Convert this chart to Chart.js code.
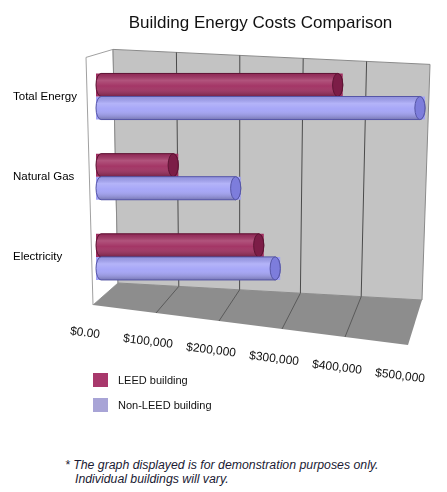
<!DOCTYPE html>
<html><head><meta charset="utf-8">
<script src="https://cdn.jsdelivr.net/npm/chart.js@4.4.0/dist/chart.umd.min.js"></script>
<style>
html,body{margin:0;padding:0;background:#fff;width:447px;height:492px;overflow:hidden;font-family:"Liberation Sans",Arial,sans-serif;}
#wrap{position:absolute;left:0;top:0;width:447px;height:400px;}
.item{position:absolute;left:93px;height:14px;font-size:11px;line-height:14px;color:#111;white-space:nowrap;}
.item .sw{position:absolute;left:0;top:0;width:15px;height:14px;}
.item .tx{position:absolute;left:25px;top:0;}
#note{position:absolute;left:65px;top:458px;font-size:12.3px;font-style:italic;line-height:14px;color:#1a1a33;white-space:nowrap;}
#note .l2{padding-left:10px;}
</style></head><body>
<div id="wrap"><canvas id="c"></canvas></div>
<div id="legend"></div>
<div id="note"><div>* The graph displayed is for demonstration purposes only.</div><div class="l2">Individual buildings will vary.</div></div>
<script>
const categories = ['Total Energy', 'Natural Gas', 'Electricity'];
const seriesNames = ['LEED building', 'Non-LEED building'];
const leedCosts = [375000, 125000, 255000];
const nonLeedCosts = [500000, 220000, 280000];
const xTicks = [0, 100000, 200000, 300000, 400000, 500000];
const xTickLabels = ['$0.00', '$100,000', '$200,000', '$300,000', '$400,000', '$500,000'];

const bodyColors = ['#a02e60', '#a3a3f7'];
const capColors = ['#7c1d47', '#7d7ddc'];
const edgeColors = ['#5e1434', '#5656a6'];
const legendColors = ['#a8386c', '#a8a4d6'];

const lerp = (p, q, t) => [p[0] + (q[0] - p[0]) * t, p[1] + (q[1] - p[1]) * t];
function geom(chart) {
  const xs = chart.scales.x, a = chart.chartArea;
  const L = xs.getPixelForValue(xTicks[0]);
  const R = xs.getPixelForValue(xTicks[xTicks.length - 1]);
  const T = a.top, B = a.bottom;
  return {
    L, R, T, B,
    wallTL: [L + 17, T - 7], wallTR: [R + 5, T + 8], wallBR: [R - 3, B + 3], wallBL: [L + 22, B - 14],
    sideTL: [L - 10, T + 1], floorFL: [L - 3, B + 8], floorFR: [R - 17, B + 48]
  };
}
function poly(ctx, pts) {
  ctx.beginPath();
  ctx.moveTo(pts[0][0], pts[0][1]);
  for (let i = 1; i < pts.length; i++) ctx.lineTo(pts[i][0], pts[i][1]);
  ctx.closePath();
}

const scenePlugin = {
  id: 'scene',
  beforeDatasetsDraw(chart) {
    const ctx = chart.ctx, g = geom(chart), xs = chart.scales.x;
    ctx.save();
    ctx.lineWidth = 1;
    poly(ctx, [g.sideTL, g.wallTL, g.wallBL, g.floorFL]);
    ctx.fillStyle = '#ffffff'; ctx.fill();
    ctx.strokeStyle = '#a0a0a0'; ctx.stroke();
    poly(ctx, [g.wallTL, g.wallTR, g.wallBR, g.wallBL]);
    ctx.fillStyle = '#c3c3c3'; ctx.fill();
    ctx.strokeStyle = '#8a8a8a'; ctx.stroke();
    poly(ctx, [g.wallBL, g.wallBR, g.floorFR, g.floorFL]);
    ctx.fillStyle = '#8d8d8d'; ctx.fill();
    xTicks.forEach((v, i) => {
      if (i === 0 || i === xTicks.length - 1) return;
      const t = (xs.getPixelForValue(v) - g.L) / (g.R - g.L);
      const a = lerp(g.wallTL, g.wallTR, t), b = lerp(g.wallBL, g.wallBR, t), c = lerp(g.floorFL, g.floorFR, t);
      ctx.beginPath(); ctx.moveTo(a[0], a[1]); ctx.lineTo(b[0], b[1]);
      ctx.strokeStyle = '#4a4a4a'; ctx.stroke();
      ctx.beginPath(); ctx.moveTo(b[0], b[1]); ctx.lineTo(c[0], c[1]);
      ctx.strokeStyle = '#5a5a5a'; ctx.stroke();
    });
    ctx.restore();
  },
  afterDatasetsDraw(chart) {
    const ctx = chart.ctx;
    chart.data.datasets.forEach((ds, di) => {
      const meta = chart.getDatasetMeta(di);
      meta.data.forEach(el => {
        const p = el.getProps(['x', 'y', 'base', 'height'], true);
        const ry = p.height / 2, rx = p.height * 0.22;
        const top = p.y - ry, bot = p.y + ry, xe = p.x - rx, b0 = p.base + rx;
        ctx.save();
        ctx.beginPath();
        ctx.moveTo(b0, top);
        ctx.lineTo(xe, top);
        ctx.ellipse(xe, p.y, rx, ry, 0, -Math.PI / 2, Math.PI / 2);
        ctx.lineTo(b0, bot);
        ctx.ellipse(b0, p.y, rx, ry, 0, Math.PI / 2, Math.PI * 1.5);
        ctx.closePath();
        ctx.fillStyle = bodyColors[di]; ctx.fill();
        const gr = ctx.createLinearGradient(0, top, 0, bot);
        gr.addColorStop(0, 'rgba(0,0,0,0.10)');
        gr.addColorStop(0.3, 'rgba(255,255,255,0.18)');
        gr.addColorStop(0.55, 'rgba(255,255,255,0.04)');
        gr.addColorStop(1, 'rgba(0,0,0,0.28)');
        ctx.fillStyle = gr; ctx.fill();
        ctx.lineWidth = 1; ctx.strokeStyle = edgeColors[di]; ctx.stroke();
        ctx.beginPath(); ctx.ellipse(xe, p.y, rx, ry, 0, 0, Math.PI * 2);
        ctx.fillStyle = capColors[di]; ctx.fill(); ctx.stroke();
        ctx.restore();
      });
    });
  },
  afterDraw(chart) {
    const ctx = chart.ctx, g = geom(chart), xs = chart.scales.x;
    ctx.save();
    ctx.font = '12px "Liberation Sans", Arial, sans-serif';
    ctx.fillStyle = '#111';
    ctx.textAlign = 'center';
    ctx.textBaseline = 'middle';
    xTicks.forEach((v, i) => {
      const t = (xs.getPixelForValue(v) - g.L) / (g.R - g.L);
      const f = lerp(g.floorFL, g.floorFR, t);
      ctx.save();
      ctx.translate(f[0] - 8, g.B + 36 + t * 43);
      ctx.rotate(7 * Math.PI / 180);
      ctx.fillText(xTickLabels[i], 0, 0);
      ctx.restore();
    });
    ctx.restore();
  }
};

const chart = new Chart(document.getElementById('c'), {
  type: 'bar',
  data: {
    labels: categories,
    datasets: [
      { label: seriesNames[0], data: leedCosts, backgroundColor: bodyColors[0], borderWidth: 0 },
      { label: seriesNames[1], data: nonLeedCosts, backgroundColor: bodyColors[1], borderWidth: 0 }
    ]
  },
  options: {
    indexAxis: 'y',
    responsive: true,
    maintainAspectRatio: false,
    animation: false,
    categoryPercentage: 0.575,
    barPercentage: 1,
    layout: { padding: { left: 13, right: 22, top: 0, bottom: 103 } },
    plugins: {
      legend: { display: false },
      tooltip: { enabled: false },
      title: {
        display: true, fullSize: false,
        text: 'Building Energy Costs Comparison',
        color: '#111',
        font: { family: '"Liberation Sans", Arial, sans-serif', size: 17, weight: 'normal' },
        padding: { top: 13, bottom: 23 }
      }
    },
    scales: {
      x: { display: false, min: xTicks[0], max: xTicks[xTicks.length - 1] },
      y: {
        grid: { display: false },
        border: { display: false },
        ticks: { crossAlign: 'far', color: '#000', font: { family: '"Liberation Sans", Arial, sans-serif', size: 11.5 } },
        afterFit(s) { s.width = 83; }
      }
    }
  },
  plugins: [scenePlugin]
});

const leg = document.getElementById('legend');
seriesNames.forEach((n, i) => {
  const d = document.createElement('div');
  d.className = 'item';
  d.style.top = (373 + i * 25) + 'px';
  d.innerHTML = '<span class="sw" style="background:' + legendColors[i] + '"></span><span class="tx"></span>';
  d.querySelector('.tx').textContent = n;
  leg.appendChild(d);
});
</script>
</body></html>
